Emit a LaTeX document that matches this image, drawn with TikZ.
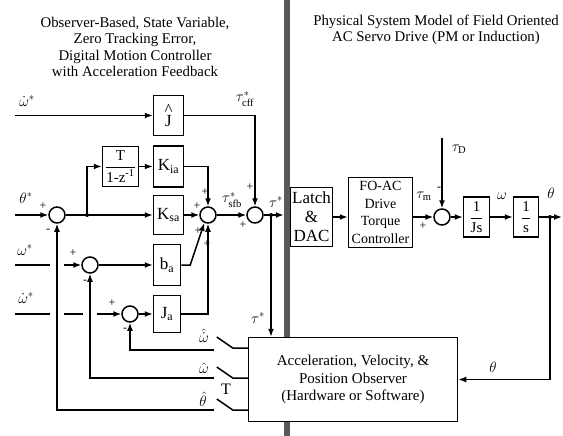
\documentclass[tikz,border=0pt]{standalone}
\usepackage{fix-cm}
\usepackage{amsmath}
\usepackage{fontspec}
\setmainfont{Liberation Serif}
\usetikzlibrary{arrows.meta, positioning, calc}

\tikzset{
  blk/.style={draw, line width=1.5pt, fill=white, inner sep=1pt, align=center},
  sumnode/.style={draw, line width=1.5pt, circle, minimum size=16pt, inner sep=0pt},
  sig/.style={line width=1.5pt, -{Latex[length=8pt, width=6pt]}},
  wire/.style={line width=1.5pt},
  sgn/.style={inner sep=0pt, font=\fontsize{12}{12}\selectfont},
  lbl/.style={inner sep=0pt, font=\fontsize{15}{15}\selectfont},
  jdot/.style={circle, fill, inner sep=0pt, minimum size=4pt},
}

\begin{document}
\begin{tikzpicture}[x=1pt, y=-1pt, font=\fontsize{14}{16.8}\selectfont]
\useasboundingbox (0,0) rectangle (563,436);

% titles
\node[align=center, font=\fontsize{14.8}{16.5}\selectfont] (ttlctrl) at (135,47)
  {Observer-Based, State Variable,\\Zero Tracking Error,\\Digital Motion Controller\\with Acceleration Feedback};
\node[align=center, font=\fontsize{14.8}{16.5}\selectfont] (ttlplant) at (436,30)
  {Physical System Model of Field Oriented\\AC Servo Drive (PM or Induction)};

% boundary between controller and plant
\fill[black!65] (284,0) rectangle (290,436);

% controller blocks
\node[blk, minimum width=30pt, minimum height=40pt, font=\fontsize{17}{17}\selectfont] (Jhat) at (168.5,115.5)
  {\shortstack{\^{}\\[-4pt]J}};
\node[blk, minimum width=36pt, minimum height=40pt, font=\fontsize{15}{15}\selectfont] (Tint) at (120.5,166.5)
  {$\dfrac{\text{T}}{\text{1-z}^{\text{-1}}}$};
\node[blk, minimum width=30pt, minimum height=41pt, font=\fontsize{17}{17}\selectfont] (Kia) at (168.5,166.5) {K\textsubscript{ia}};
\node[blk, minimum width=30pt, minimum height=39pt, font=\fontsize{17}{17}\selectfont] (Ksa) at (168.5,215) {K\textsubscript{sa}};
\node[blk, minimum width=27pt, minimum height=41pt, font=\fontsize{17}{17}\selectfont] (ba) at (167,265) {b\textsubscript{a}};
\node[blk, minimum width=27pt, minimum height=37pt, font=\fontsize{17}{17}\selectfont] (Ja) at (167,314) {J\textsubscript{a}};

% summing junctions
\node[sumnode] (s1) at (57,215) {};
\node[sumnode] (s5) at (90,265) {};
\node[sumnode] (s6) at (130,314) {};
\node[sumnode] (s3) at (208,215) {};
\node[sumnode] (s2) at (255,215) {};
\node[sumnode] (s4) at (442,217) {};

% plant blocks
\node[blk, minimum width=42pt, minimum height=59pt, font=\fontsize{17}{19}\selectfont] (latch) at (311.5,217) {Latch\\\&\\DAC};
\node[blk, minimum width=64pt, minimum height=70pt, font=\fontsize{14}{17.5}\selectfont] (foac) at (380.5,212.5)
  {FO-AC\\Drive\\Torque\\Controller};
\node[blk, minimum width=26pt, minimum height=40pt, font=\fontsize{15}{15}\selectfont] (js) at (476.5,217) {$\dfrac{\text{1}}{\text{Js}}$};
\node[blk, minimum width=25pt, minimum height=40pt, font=\fontsize{15}{15}\selectfont] (sint) at (526,217) {$\dfrac{\text{1}}{\text{s}}$};

% observer
\node[blk, minimum width=209pt, minimum height=84pt, font=\fontsize{15}{17.5}\selectfont] (obs) at (353,379.5)
  {Acceleration, Velocity, \&\\Position Observer\\(Hardware or Software)};

% free ends and branch points
\coordinate (in1) at (15,115.5);
\coordinate (in2) at (15,215);
\coordinate (in3) at (15,265);
\coordinate (in4) at (15,314);
\coordinate (br1) at (87,215);
\coordinate (br2) at (271,215);
\coordinate (brth) at (550,217);
\coordinate (out) at (562,217);
\coordinate (dist) at (442,138);
\coordinate (fb1) at (214,350);
\coordinate (fb2) at (214,378);
\coordinate (fb3) at (214,410);

% controller connectors
\draw[sig] (in1) -- (Jhat.west);
\draw[sig] (Jhat.east) -| (s2.north);
\draw[sig] (in2) -- (s1.west);
\draw[sig] (s1.east) -- (Ksa.west);
\draw[sig] (br1) |- (Tint.west);
\draw[sig] (Tint.east) -- (Kia.west);
\draw[sig] (Kia.east) -| (s3.north);
\draw[sig] (Ksa.east) -- (s3.west);
\draw[sig] (ba.east) -- ++(9,0) -- (s3.-115);
\draw[sig] (Ja.east) -| (s3.south);
\draw[sig] (s3.east) -- (s2.west);
\draw[sig] (s5.east) -- (ba.west);
\draw[sig] (s6.east) -- (Ja.west);
\draw[sig, shorten >=6pt] (s2.east) -- (s2.east -| latch.west);
\draw[sig] (br2) -- (br2 |- obs.north);
\node[jdot] at (br1) {};
\node[jdot] at (br2) {};

% reference inputs with line hops
\draw[wire] (in3) -- ([xshift=-7pt]in3 -| s1.south);
\draw[sig] ([xshift=7pt]in3 -| s1.south) -- (s5.west);
\draw[wire] (in4) -- ([xshift=-7pt]in4 -| s1.south);
\draw[wire] ([xshift=7pt]in4 -| s1.south) -- ([xshift=-7pt]in4 -| s5.south);
\draw[sig] ([xshift=7pt]in4 -| s5.south) -- (s6.west);

% plant connectors
\draw[sig] (latch.east) -- (latch.east -| foac.west);
\draw[sig] (foac.east |- s4) -- (s4.west);
\draw[sig] (dist) -- (s4.north);
\draw[sig] (s4.east) -- (js.west);
\draw[sig] (js.east) -- (sint.west);
\draw[sig] (sint.east) -- (out);
\draw[sig] (brth) |- (obs.east);
\node[jdot] at (brth) {};

% sampled feedback switches
\foreach \yy in {348,378,410}
  \draw[wire] (obs.west |- 0,\yy) -- ++(-15,0) -- ++(-16,-11);
\draw[sig] (fb1) -| (s6.south);
\draw[sig] (fb2) -| (s5.south);
\draw[sig] (fb3) -| (s1.south);

% signal labels
\node[lbl] at (27,101) {$\dot{\omega}^{*}$};
\node[lbl] at (26,198) {$\theta^{*}$};
\node[lbl] at (25,250) {$\omega^{*}$};
\node[lbl] at (26,298) {$\dot{\omega}^{*}$};
\node[lbl] at (245,99) {$\tau^{*}_{\text{cff}}$};
\node[lbl] at (232,200) {$\tau^{*}_{\text{sfb}}$};
\node[lbl] at (276,202) {$\tau^{*}$};
\node[lbl] at (258,318) {$\tau^{*}$};
\node[lbl] at (424,196) {$\tau_{\text{m}}$};
\node[lbl] at (459,149) {$\tau_{\text{D}}$};
\node[lbl] at (502,196) {$\omega$};
\node[lbl] at (551,193) {$\theta$};
\node[lbl] at (493,367) {$\theta$};
\node[lbl] at (204,336) {$\hat{\dot{\omega}}$};
\node[lbl] at (204,368) {$\hat{\omega}$};
\node[lbl] at (203,399) {$\hat{\theta}$};
\node[lbl, font=\fontsize{16}{16}\selectfont] at (226,389) {T};

% signs
\node[sgn] at (43,206) {+};
\node[sgn] at (48,231) {-};
\node[sgn] at (73,253) {+};
\node[sgn] at (85,282) {-};
\node[sgn] at (112,303) {+};
\node[sgn] at (125,330) {-};
\node[sgn] at (205,192) {+};
\node[sgn] at (197,206) {+};
\node[sgn] at (198,231) {+};
\node[sgn] at (207,244) {+};
\node[sgn] at (250,187) {+};
\node[sgn] at (243,225) {+};
\node[sgn] at (439,189) {-};
\node[sgn] at (423,226) {+};

\end{tikzpicture}
\end{document}
